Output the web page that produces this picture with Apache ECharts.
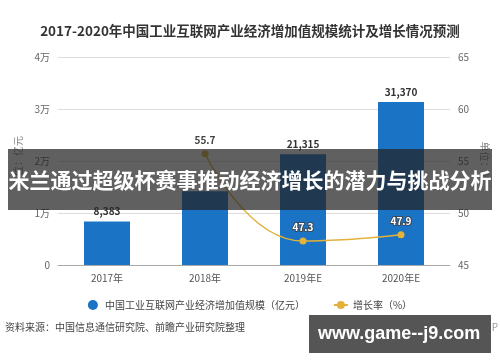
<!DOCTYPE html>
<html><head><meta charset="utf-8">
<script src="https://cdn.jsdelivr.net/npm/echarts@6/dist/echarts.min.js"></script>
<style>html,body{margin:0;padding:0;background:#fff}#c{width:500px;height:362px}</style>
</head><body><div id="c"></div>
<script>
const categories = ['2017年', '2018年', '2019年E', '2020年E'];
const scaleValues = [8383, 14200, 21315, 31370];
const growthValues = [null, 55.7, 47.3, 47.9];
const leftTicks = ['0', '1万', '2万', '3万', '4万'];
const rightTicks = [45, 50, 55, 60, 65];
const scaleLabels = ['8,383', '', '21,315', '31,370'];

const chart = echarts.init(document.getElementById('c'));
const font = '"Noto Sans CJK SC", "Noto Sans", sans-serif';
const growthData = growthValues.map((v, i) => ({
  value: v,
  label: i === 1
    ? { color: '#444', textBorderWidth: 0 }
    : { color: '#fff', textBorderColor: '#3a4a5a', textBorderWidth: 2 }
}));
chart.setOption({
  animation: false,
  textStyle: { fontFamily: font },
  title: {
    text: '2017-2020年中国工业互联网产业经济增加值规模统计及增长情况预测',
    left: 'center', top: 19,
    textStyle: { fontSize: 13.5, fontWeight: 'bold', color: '#333', fontFamily: font }
  },
  grid: { left: 58, right: 50, top: 57, bottom: 97 },
  legend: {
    bottom: 47, left: 'center', itemGap: 28,
    textStyle: { fontSize: 10, color: '#444' },
    data: [
      { name: '中国工业互联网产业经济增加值规模（亿元）', icon: 'circle', itemStyle: { color: '#1a73c4' } },
      { name: '增长率（%）' }
    ],
    itemWidth: 14, itemHeight: 10
  },
  xAxis: {
    type: 'category', data: categories,
    axisLine: { lineStyle: { color: '#aaa' } },
    axisTick: { alignWithLabel: true, lineStyle: { color: '#aaa' } },
    axisLabel: { color: '#555', fontSize: 10, margin: 8 }
  },
  yAxis: [
    {
      type: 'value', min: 0, max: 40000, interval: 10000,
      name: '单位：亿元', nameLocation: 'middle', nameGap: 34, nameRotate: 90,
      nameTextStyle: { color: '#888', fontSize: 10 },
      axisLabel: { color: '#666', fontSize: 10, formatter: (v) => leftTicks[v / 10000] },
      axisLine: { show: false }, axisTick: { show: false },
      splitLine: { lineStyle: { color: '#ddd' } }
    },
    {
      type: 'value', min: 45, max: 65, interval: 5,
      name: '单位：%', nameLocation: 'middle', nameGap: 30, nameRotate: -90,
      nameTextStyle: { color: '#888', fontSize: 10 },
      axisLabel: { color: '#666', fontSize: 10, formatter: (v) => rightTicks.includes(v) ? String(v) : '' },
      axisLine: { show: false }, axisTick: { show: false },
      splitLine: { show: false }
    }
  ],
  series: [
    {
      name: '中国工业互联网产业经济增加值规模（亿元）', type: 'bar', data: scaleValues,
      barWidth: 46, itemStyle: { color: '#1a73c4' },
      label: {
        show: true, position: 'top', color: '#333', fontSize: 10, fontWeight: 'bold',
        formatter: (p) => scaleLabels[p.dataIndex]
      }
    },
    {
      name: '增长率（%）', type: 'line', yAxisIndex: 1, data: growthData,
      smooth: 0.5, symbol: 'circle', symbolSize: 7, connectNulls: true,
      itemStyle: { color: '#e2b23a' }, lineStyle: { color: '#e2b23a', width: 1.5 },
      label: {
        show: true, position: 'top', fontSize: 10, fontWeight: 'bold',
        formatter: (p) => p.value == null ? '' : Number(p.value).toFixed(1)
      },
      z: 5
    }
  ],
  graphic: [
    {
      type: 'text', left: 5, top: 322,
      style: { text: '资料来源：中国信息通信研究院、前瞻产业研究院整理', fill: '#444', font: '10px ' + font }
    },
    {
      type: 'text', right: 2, top: 322,
      style: { text: '@前瞻经济学人APP', fill: '#999', font: '10px ' + font }
    },
    {
      type: 'rect', shape: { x: 8, y: 149, width: 484, height: 61 },
      style: { fill: 'rgba(35,35,35,0.72)' }, z: 100
    },
    {
      type: 'text', left: 'center', top: 170,
      style: { text: '米兰通过超级杯赛事推动经济增长的潜力与挑战分析', fill: '#fff', font: 'bold 21px ' + font },
      z: 101
    },
    {
      type: 'rect', shape: { x: 309, y: 315, width: 182, height: 38 },
      style: { fill: '#555' }, z: 100
    },
    {
      type: 'text', left: 318, top: 325,
      style: { text: 'www.game--j9.com', fill: '#fff', font: 'bold 18px "Liberation Sans", Arial, sans-serif' },
      z: 101
    }
  ]
});
</script></body></html>
